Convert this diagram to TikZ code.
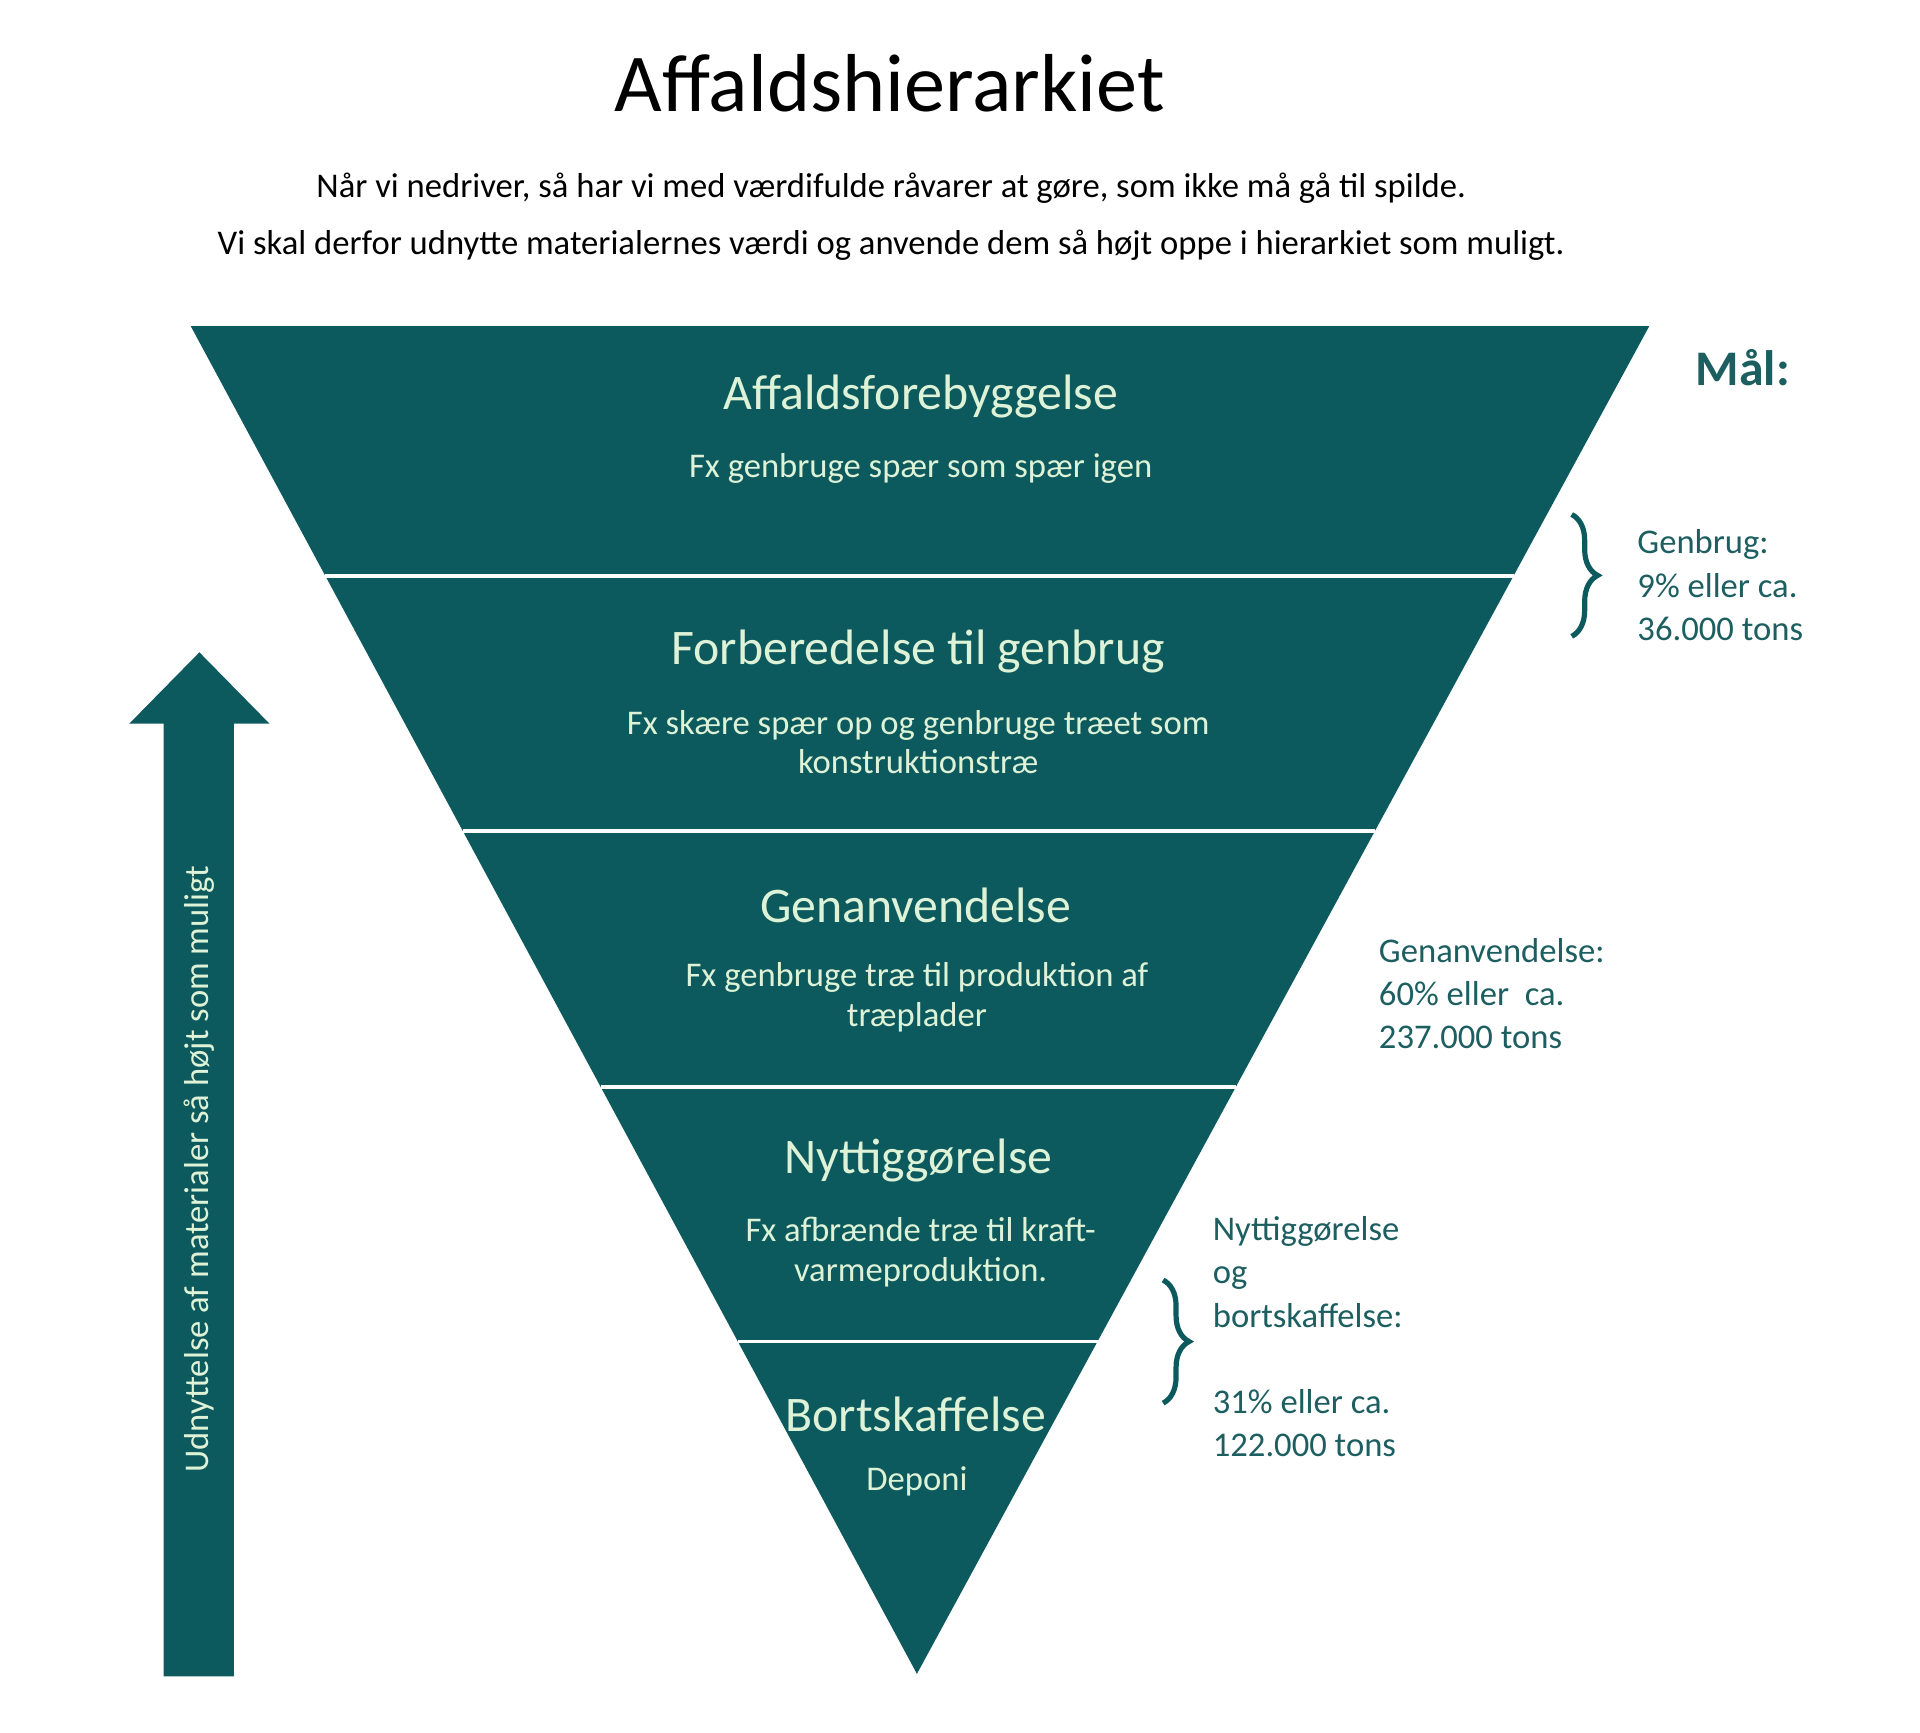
\documentclass[tikz,border=0pt]{standalone}
\usepackage{fontspec}
\setmainfont{Carlito}
\usetikzlibrary{decorations.pathreplacing}
\definecolor{teal}{HTML}{0D5A5E}
\definecolor{lightg}{HTML}{DDF2D6}
\definecolor{goaltxt}{HTML}{1D5E60}
\tikzset{
  head/.style={text=lightg, font=\fontsize{11.5}{13}\selectfont},
  sub/.style={text=lightg, font=\fontsize{8}{9.2}\selectfont, align=center},
  goal/.style={text=goaltxt, font=\fontsize{8}{10}\selectfont, align=left, anchor=north west},
  band/.style={draw=white, line width=0.8pt},
  goalbrace/.style={draw=teal, line width=1.2pt, decorate, decoration={brace, amplitude=6pt}}
}
\begin{document}
\begin{tikzpicture}[x=0.01cm,y=-0.01cm]
  \useasboundingbox (0,0) rectangle (1560,1408);

  % Title and intro
  \node (title) at (723,68) {\fontsize{19}{22}\selectfont Affaldshierarkiet};
  \node (intro) at (724,176) [align=center, font=\fontsize{8}{13}\selectfont]
    {Når vi nedriver, så har vi med værdifulde råvarer at gøre, som ikke må gå til spilde.\\
     Vi skal derfor udnytte materialernes værdi og anvende dem så højt oppe i hierarkiet som muligt.};

  % Inverted triangle
  \fill[teal] (155,265) -- (1340,265) -- (745,1360) -- cycle;
  \foreach \y in {468,675,883,1090}
    \draw[band] ({155+0.539*(\y-265)},\y) -- ({1340-0.543*(\y-265)},\y);

  % Levels
  \node[head] (prevent) at (748,322) {Affaldsforebyggelse};
  \node[sub] (preventsub) at (748,381) {Fx genbruge spær som spær igen};
  \node[head] (prepare) at (746,529) {Forberedelse til genbrug};
  \node[sub] (preparesub) at (746,603) {Fx skære spær op og genbruge træet som\\konstruktionstræ};
  \node[head] (reuse) at (744,736) {Genanvendelse};
  \node[sub] (reusesub) at (745,810) {Fx genbruge træ til produktion af\\træplader};
  \node[head] (recover) at (746,943) {Nyttiggørelse};
  \node[sub] (recoversub) at (748,1017) {Fx afbrænde træ til kraft-\\varmeproduktion.};
  \node[head] (dispose) at (744,1149) {Bortskaffelse};
  \node[sub] (disposesub) at (745,1204) {Deponi};

  % Goals
  \node (goalhead) at (1416,299) [text=goaltxt, font=\bfseries\fontsize{11.5}{13}\selectfont] {Mål:};
  \draw[goalbrace] (1277,418) -- (1277,517);
  \node[goal] (goal1) at (1318,418) {Genbrug:\\9\% eller ca.\\36.000 tons};
  \node[goal] (goal2) at (1108,750) {Genanvendelse:\\60\% eller~ ca.\\237.000 tons};
  \draw[goalbrace] (945,1040) -- (945,1140);
  \node[goal] (goal3) at (973,976) {Nyttiggørelse\\og\\bortskaffelse:\\[10pt]31\% eller ca.\\122.000 tons};

  % Arrow
  \fill[teal] (133,1362) -- (133,588) -- (105,588) -- (162,530) -- (219,588) -- (190,588) -- (190,1362) -- cycle;
  \node[rotate=90, text=lightg, font=\fontsize{8}{9}\selectfont] (arrowtxt) at (162,950)
    {Udnyttelse af materialer så højt som muligt};
\end{tikzpicture}
\end{document}
